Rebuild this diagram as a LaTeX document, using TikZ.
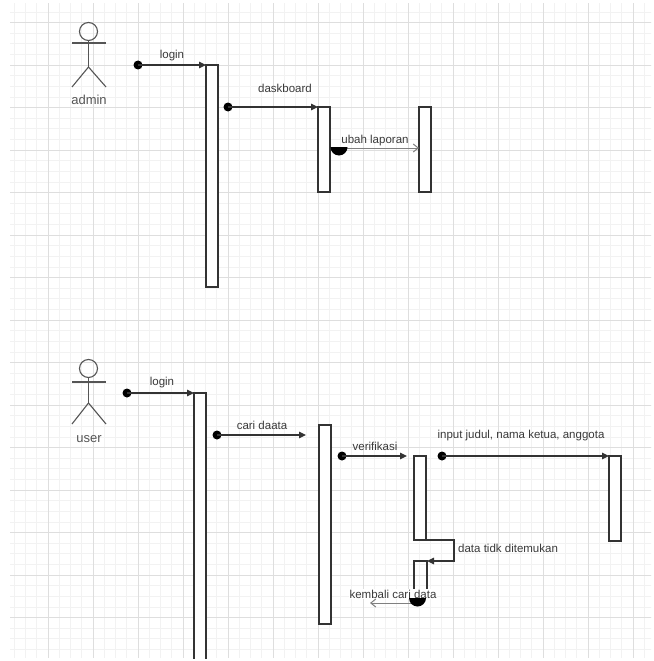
\documentclass[tikz,border=0pt]{standalone}
\usepackage{fontspec}
\setmainfont{Liberation Sans}
\usetikzlibrary{arrows.meta}
\definecolor{ln}{HTML}{333333}
\definecolor{txt}{HTML}{3A3A3A}
\definecolor{actc}{HTML}{555555}
\definecolor{gmaj}{HTML}{DEDEDE}
\definecolor{gmin}{HTML}{F2F2F2}
\begin{document}
\begin{tikzpicture}[x=1pt,y=-1pt,
  act/.style={draw=ln, fill=white, line width=1.3pt, minimum width=12pt, inner sep=0pt, outer sep=0pt, anchor=north west},
  lbl/.style={font=\fontsize{11.5}{13}\selectfont, text=txt, inner sep=1pt},
  albl/.style={font=\fontsize{13}{15}\selectfont, text=actc, inner sep=1pt},
  msg/.style={draw=ln, line width=1.1pt, -{Triangle[length=7pt,width=6.5pt]}},
  ret/.style={draw=gray, line width=1pt, -{Straight Barb[length=5pt,width=8pt]}},
  dotn/.style={circle, fill=black, minimum size=9pt, inner sep=0pt},
  actor/.style={draw=actc, line width=1.1pt},
]
\useasboundingbox (0,0) rectangle (653,661);
\fill[white] (0,0) rectangle (653,661);
% grid
\begin{scope}
  \clip (10,4) rectangle (651,657);
  \foreach \i in {0,...,60} {\draw[gmin, line width=0.6pt] ({3+11.25*\i},0) -- ++(0,661);}
  \foreach \i in {-3,...,62} {\draw[gmin, line width=0.6pt] (0,{22.5+10.625*\i}) -- ++(653,0);}
  \foreach \i in {0,...,15} {\draw[gmaj, line width=0.8pt] ({3+45*\i},0) -- ++(0,661);}
  \foreach \i in {-1,...,15} {\draw[gmaj, line width=0.8pt] (0,{22.5+42.5*\i}) -- ++(653,0);}
\end{scope}

% ---------- admin ----------
\draw[actor] (88.5,31.5) circle[radius=9pt];
\draw[actor] (72,43) -- (106,43);
\draw[actor] (88.5,40.5) -- (88.5,67);
\draw[actor] (72,87) -- (88.5,67) -- (106,87);
\node[albl] (admin) at (89,100) {admin};

\node[act, minimum height=222pt] (b1) at (206,65) {};
\node[act, minimum height=85pt] (b2) at (318,107) {};
\node[act, minimum height=85pt] (b3) at (419,107) {};

\node[dotn] (d1) at (138,65) {};
\draw[msg] (d1.center) -- (b1.north west);
\node[lbl] (l1) at (172,56) {login};

\node[dotn] (d2) at (228,107) {};
\draw[msg] (d2.center) -- (b2.north west);
\node[lbl] (l2) at (285,88) {daskboard};

\coordinate (h1) at (339,148);
\draw[ret] (h1) -- (b3.west |- h1);
\fill[black] (h1) ++(8.5pt,-1) arc[start angle=0, end angle=-180, radius=8.5pt] -- cycle;
\node[lbl] (l3) at (375,141) {ubah laporan};

% ---------- user ----------
\draw[actor] (88.5,368.5) circle[radius=9pt];
\draw[actor] (72,382) -- (106,382);
\draw[actor] (88.5,377.5) -- (88.5,403);
\draw[actor] (72,424) -- (88.5,403) -- (106,424);
\node[albl] (user) at (89,439) {user};

\begin{scope}
  \clip (0,0) rectangle (653,658);
  \node[act, minimum height=290pt] (u1) at (194,393) {};
\end{scope}
\node[act, minimum height=199pt] (u2) at (319,425) {};
\node[act, minimum height=84pt] (u3) at (414,456) {};
\node[act, minimum height=85pt] (u5) at (609,456) {};
\coordinate (u4nw) at (414,561);
\coordinate (u4ne) at (427,561);
\draw[ln, line width=1.3pt] (414,598) -- (u4nw) -- (u4ne) -- (427,598);

\node[dotn] (d3) at (127,393) {};
\draw[msg] (d3.center) -- (u1.north west);
\node[lbl] (l4) at (162,383) {login};

\node[dotn] (d4) at (217,435) {};
\draw[msg, shorten >=13pt] (d4.center) -- (u2.west |- d4);
\node[lbl] (l5) at (262,425) {cari daata};

\node[dotn] (d5) at (342,456) {};
\draw[msg, shorten >=7pt] (d5.center) -- (u3.north west);
\node[lbl] (l6) at (375,446) {verifikasi};

\node[dotn] (d6) at (442,456) {};
\draw[msg] (d6.center) -- (u5.north west);
\node[lbl] (l7) at (521,436) {input judul, nama ketua, anggota};

\coordinate (s1) at (454,540);
\coordinate (s2) at (454,561);
\draw[msg] (u3.south west) -- (s1) -- (s2) -- (u4ne);
\node[lbl, anchor=west] (l8) at (457,548) {data tidk ditemukan};

\node[lbl, fill=white] (l9) at (393,594) {kembali cari data};
\coordinate (k1) at (417,603);
\coordinate (k2) at (370,603);
\draw[ret] (k1) -- (k2);
\fill[black] (426,598) arc[start angle=0, end angle=-180, radius=8.5pt] -- cycle;
\end{tikzpicture}
\end{document}
